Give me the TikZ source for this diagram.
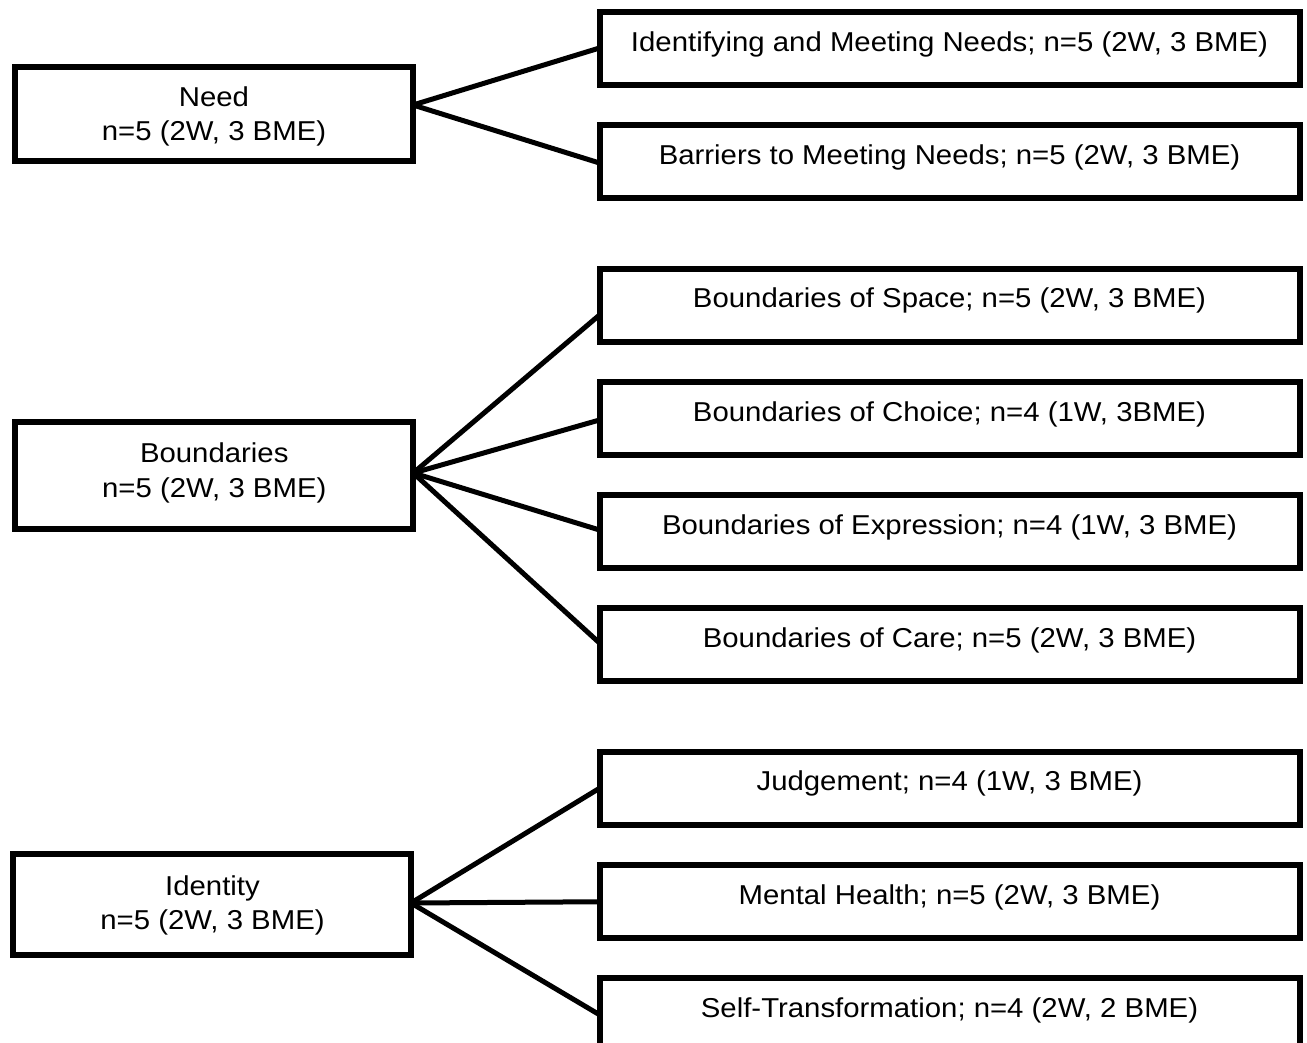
\documentclass[tikz,border=0pt]{standalone}
\usepackage{fontspec}
\setmainfont{Liberation Sans}[FakeStretch=1.075]
\begin{document}
\begin{tikzpicture}[x=1pt,y=-1pt,
  every node/.style={font=\fontsize{27.3pt}{34pt}\selectfont, inner sep=0pt, outer sep=0pt},
  lbox/.style={draw, line width=6pt, minimum width=398pt, minimum height=#1},
  rbox/.style={draw, line width=6pt, minimum width=700pt, minimum height=73pt,
               text height=14pt, text depth=9pt},
  ltext/.style={anchor=base},
  conn/.style={line width=5pt}]
\useasboundingbox (0,0) rectangle (1307,1043);
\clip (0,0) rectangle (1307,1043);

% left boxes
\node[lbox=93.5pt] (need) at (214,114.25) {};
\node[lbox=107pt] (bound) at (214.25,475) {};
\node[lbox=101pt] (iden) at (212,904.5) {};

\node[ltext] (needA) at (214,106.7) {Need};
\node[ltext] (needB) at (214,140.7) {n=5 (2W, 3 BME)};
\node[ltext] (boundA) at (214.25,462.7) {Boundaries};
\node[ltext] (boundB) at (214.25,497.3) {n=5 (2W, 3 BME)};
\node[ltext] (idenA) at (212.5,895.7) {Identity};
\node[ltext] (idenB) at (212.5,929) {n=5 (2W, 3 BME)};

% right boxes
\node[rbox] (idm) at (949.5,49) {Identifying and Meeting Needs; n=5 (2W, 3 BME)};
\node[rbox] (bar) at (949.5,162) {Barriers to Meeting Needs; n=5 (2W, 3 BME)};
\node[rbox] (spa) at (949.5,305.25) {Boundaries of Space; n=5 (2W, 3 BME)};
\node[rbox] (cho) at (949.5,418.5) {Boundaries of Choice; n=4 (1W, 3BME)};
\node[rbox] (exp) at (949.5,531.5) {Boundaries of Expression; n=4 (1W, 3 BME)};
\node[rbox] (car) at (949.5,644.5) {Boundaries of Care; n=5 (2W, 3 BME)};
\node[rbox] (jud) at (949.5,788.25) {Judgement; n=4 (1W, 3 BME)};
\node[rbox] (men) at (949.5,901.75) {Mental Health; n=5 (2W, 3 BME)};
\node[rbox] (sel) at (949.5,1014.75) {Self-Transformation; n=4 (2W, 2 BME)};

% connectors
\draw[conn] ([yshift=9.25pt]need.east) -- ([yshift=1pt]idm.west);
\draw[conn] ([yshift=9.25pt]need.east) -- ([yshift=-1pt]bar.west);

\draw[conn] ([yshift=2pt]bound.east) -- ([yshift=-9.75pt]spa.west);
\draw[conn] ([yshift=2pt]bound.east) -- ([yshift=-1.5pt]cho.west);
\draw[conn] ([yshift=2pt]bound.east) -- ([yshift=1.5pt]exp.west);
\draw[conn] ([yshift=2pt]bound.east) -- ([yshift=1.5pt]car.west);

\draw[conn] ([yshift=1.5pt]iden.east) -- (jud.west);
\draw[conn] ([yshift=1.5pt]iden.east) -- (men.west);
\draw[conn] ([yshift=1.5pt]iden.east) -- (sel.west);
\end{tikzpicture}
\end{document}
